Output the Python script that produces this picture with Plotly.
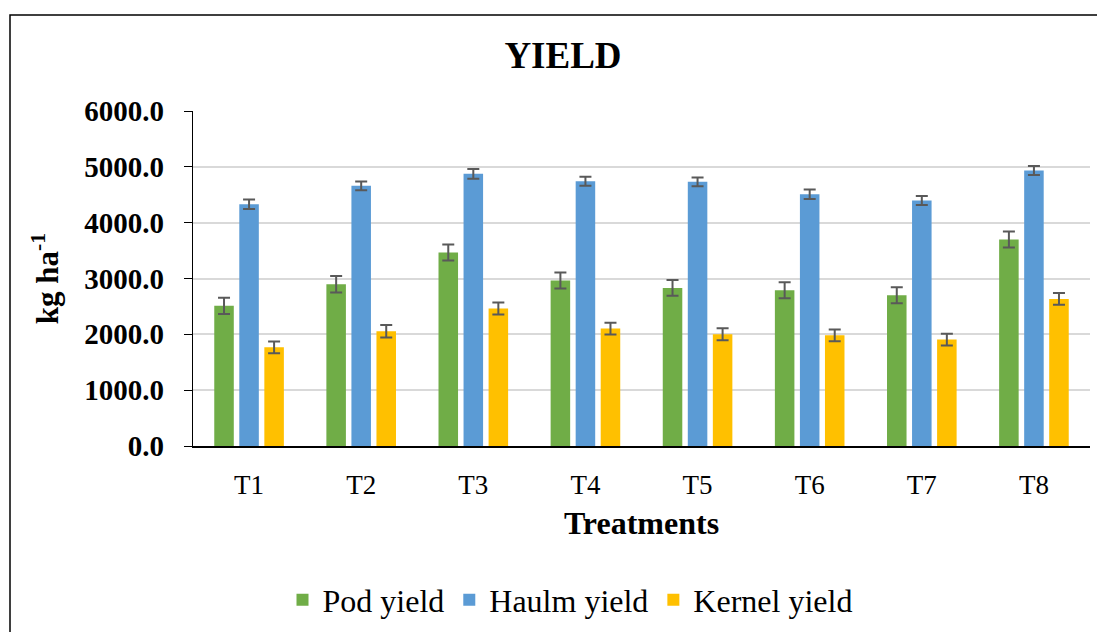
import plotly.graph_objects as go

treatments = ["T1", "T2", "T3", "T4", "T5", "T6", "T7", "T8"]
pod_yield = [2510, 2897, 3465, 2963, 2832, 2790, 2700, 3698]
pod_err = [147, 146, 143, 143, 140, 143, 143, 143]
haulm_yield = [4331, 4659, 4875, 4743, 4731, 4510, 4397, 4934]
haulm_err = [84, 80, 87, 80, 80, 84, 80, 80]
kernel_yield = [1768, 2055, 2461, 2103, 2001, 1983, 1906, 2634]
kernel_err = [105, 110, 107, 105, 107, 105, 105, 105]

series = [
    ("Pod yield", pod_yield, pod_err, "#70AD47"),
    ("Haulm yield", haulm_yield, haulm_err, "#5B9BD5"),
    ("Kernel yield", kernel_yield, kernel_err, "#FFC000"),
]

fig = go.Figure()
for name, vals, errs, col in series:
    fig.add_trace(go.Bar(
        x=treatments, y=vals, name=name,
        marker=dict(color=col, line=dict(width=0)),
        error_y=dict(type="data", array=errs, visible=True,
                     color="#595959", thickness=2, width=6),
    ))

SERIF = "Liberation Serif, Times New Roman, serif"
# page has an 8px body margin; work in page coordinates (reference - 8)
OFF = 8
W, H = 1105 - OFF, 632 - OFF
L, Rr, T, Bb = 193 - OFF, 1090 - OFF, 111 - OFF, 446 - OFF
pw, ph = Rr - L, Bb - T


def px(x):
    return (x - OFF - L) / pw


def py(y):
    return (Bb - (y - OFF)) / ph


fig.update_layout(
    width=W, height=H,
    margin=dict(l=L, r=W - Rr, t=T, b=H - Bb, autoexpand=False),
    paper_bgcolor="white", plot_bgcolor="white",
    barmode="group", bargap=0.33, bargroupgap=0.22,
    title=dict(text="<b>YIELD</b>", x=(563 - OFF) / W, xanchor="center",
               y=1 - (55 - OFF) / H, yanchor="middle",
               font=dict(family=SERIF, size=37, color="black")),
    font=dict(family=SERIF, color="black"),
    legend=dict(orientation="h", x=px(570), xanchor="center",
                y=py(600), yanchor="middle",
                font=dict(family=SERIF, size=32, color="black"),
                traceorder="normal", itemwidth=30),
    showlegend=True,
    shapes=[dict(type="rect", xref="paper", yref="paper",
                 x0=px(10), x1=px(1120), y0=py(650), y1=py(15),
                 line=dict(color="black", width=1.5), fillcolor="rgba(0,0,0,0)",
                 layer="below")],
)
fig.update_xaxes(
    showline=True, linecolor="black", linewidth=2,
    tickfont=dict(family=SERIF, size=27, color="black"),
    ticks="", showgrid=False, ticklabelstandoff=14,
    title=dict(text="<b>Treatments</b>", font=dict(family=SERIF, size=32, color="black"),
               standoff=12),
)
fig.update_yaxes(
    range=[0, 6000], dtick=1000, tickformat=".1f",
    showline=True, linecolor="black", linewidth=1.2,
    ticks="outside", ticklen=8, tickcolor="black", tickwidth=1.2,
    ticklabelstandoff=14,
    showgrid=True, gridcolor="#D9D9D9", gridwidth=1.5,
    tickfont=dict(family=SERIF, size=29, color="black"),
    tickprefix="<b>", ticksuffix="</b>",
    title=dict(text="<b>kg ha<sup>-1</sup></b>", font=dict(family=SERIF, size=31, color="black"),
               standoff=16),
    zeroline=False,
)

fig.write_html("out.html")
